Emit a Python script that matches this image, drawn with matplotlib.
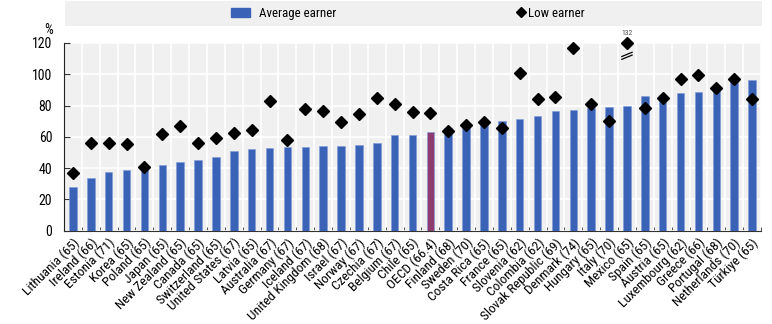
import matplotlib
matplotlib.use("Agg")
import matplotlib.pyplot as plt
import matplotlib.patches as mpatches
from matplotlib.lines import Line2D
from matplotlib import font_manager
import numpy as np

# ---- pick a condensed sans font if one is installed ----
_entries = [(f.name, str(f.stretch)) for f in font_manager.fontManager.ttflist]
_names = {n for n, _ in _entries}
_cond = {n for n, s in _entries if s in ("condensed", "semi-condensed", "extra-condensed", "ultra-condensed", "75", "62.5", "87.5")}
family, stretch, scale = "Liberation Sans", "normal", 0.85
for cand in ["Liberation Sans Narrow", "Arial Narrow", "Roboto Condensed", "Open Sans Condensed",
             "Noto Sans Condensed"]:
    if cand in _names:
        family, stretch, scale = cand, "normal", 1.0
        break
else:
    for cand in ["Roboto", "Noto Sans", "Open Sans", "DejaVu Sans"]:
        if cand in _cond:
            family, stretch, scale = cand, "condensed", 0.95
            break
plt.rcParams['font.family'] = [family, 'DejaVu Sans']
plt.rcParams['font.stretch'] = stretch

countries = ["Lithuania (65)", "Ireland (66)", "Estonia (71)", "Korea (65)", "Poland (65)",
             "Japan (65)", "New Zealand (65)", "Canada (65)", "Switzerland (65)",
             "United States (67)", "Latvia (65)", "Australia (67)", "Germany (67)",
             "Iceland (67)", "United Kingdom (68)", "Israel (67)", "Norway (67)",
             "Czechia (67)", "Belgium (67)", "Chile (65)", "OECD (66.4)", "Finland (68)",
             "Sweden (70)", "Costa Rica (65)", "France (65)", "Slovenia (62)",
             "Colombia (62)", "Slovak Republic (69)", "Denmark (74)", "Hungary (65)",
             "Italy (70)", "Mexico (65)", "Spain (65)", "Austria (65)", "Luxembourg (62)",
             "Greece (66)", "Portugal (68)", "Netherlands (70)", "Türkiye (65)"]
average_earner = [28.1, 33.4, 37.5, 38.8, 40.3, 42.2, 43.7, 45.0, 47.3, 51.2, 52.2, 52.9,
                  53.3, 53.5, 54.0, 54.2, 54.8, 55.9, 61.0, 61.2, 63.1, 65.9, 66.5, 68.7,
                  70.0, 71.5, 73.2, 76.4, 77.0, 78.1, 79.0, 79.6, 86.2, 86.7, 87.7, 88.6,
                  91.1, 97.1, 96.3]
low_earner = [36.7, 56.3, 55.9, 55.2, 40.7, 61.6, 67.0, 55.9, 59.1, 62.3, 64.4, 82.8,
              57.8, 77.7, 76.2, 69.4, 74.5, 84.5, 80.9, 76.0, 75.3, 63.6, 67.4, 69.4,
              65.9, 100.5, 84.1, 85.6, 116.8, 80.9, 70.2, 132.0, 78.3, 84.7, 97.1, 99.5,
              91.1, 97.1, 84.1]
highlight = "OECD (66.4)"
ymax = 120

blue = "#3a62b6"
purple = "#8c3c70"
fs = 10 * scale

W, H = 772, 324
fig = plt.figure(figsize=(W / 100, H / 100), dpi=100)
ax = fig.add_axes([64 / W, 1 - 230.5 / H, (761 - 64) / W, (230.5 - 43) / H])
ax.set_facecolor("#f0f0f0")

n = len(countries)
x = np.arange(n)
colors = [purple if c == highlight else blue for c in countries]
ax.bar(x, average_earner, width=0.42, color=colors, zorder=3,
       edgecolor="#7f9bd6", linewidth=0.4)
low = np.array(low_earner)
ax.plot(x, np.minimum(low, ymax), linestyle="none", marker="D", color="black",
        markersize=6, zorder=4, clip_on=False)

# annotate clipped values
for i, v in enumerate(low):
    if v > ymax:
        ax.annotate(f"{v:.0f}", (i, ymax), xytext=(0, 7), textcoords="offset points",
                    ha="center", va="center", fontsize=5.5, color="#4a4a4a",
                    annotation_clip=False)
        for dy in (0, 1.8):
            ax.plot([i - 0.32, i + 0.32], [109.4 + dy, 112.4 + dy], color="black",
                    lw=0.9, zorder=5, solid_capstyle="butt")

ax.set_xlim(-0.5, n - 0.5)
ax.set_ylim(0, ymax)
ax.set_yticks(np.arange(0, 121, 20))
ax.set_xticks(x)
ax.set_xticklabels(countries, rotation=45, ha="right", rotation_mode="anchor", fontsize=fs * 0.97)
ax.set_xticks(np.arange(-0.5, n, 1), minor=True)
ax.tick_params(axis="x", which="major", length=0, pad=4)
ax.tick_params(axis="x", which="minor", length=3, direction="in", color="#333333")
ax.tick_params(axis="y", length=4, direction="in", labelsize=fs, pad=8.5, color="#333333")

ax.grid(axis="y", color="white", linewidth=1.2, zorder=0)
ax.grid(axis="x", which="minor", color="white", linewidth=1.2, zorder=0)
ax.grid(axis="x", which="major", visible=False)
ax.set_axisbelow(True)

for s in ["top", "right"]:
    ax.spines[s].set_visible(False)
ax.spines["left"].set_color("#222222")
ax.spines["bottom"].set_color("#333333")

fig.text(53 / W, 1 - 30 / H, "%", ha="right", va="center", fontsize=fs)

# legend band
fig.patches.append(mpatches.Rectangle((65 / W, 1 - 26 / H), (762 - 65) / W, 25 / H,
                                      transform=fig.transFigure, facecolor="#f0f0f0",
                                      edgecolor="none", zorder=0))
lfs = fs * 0.93
em = lfs * 100 / 72  # px per em
h_avg = mpatches.Patch(color=blue, label="Average earner")
h_low = Line2D([], [], marker="D", color="black", linestyle="none", markersize=5,
               label="Low earner")
fig.legend(handles=[h_avg], loc="center left", bbox_to_anchor=(231 / W, 1 - 13.5 / H),
           frameon=False, fontsize=lfs, borderpad=0, borderaxespad=0,
           handlelength=19 / em, handleheight=10 / em, handletextpad=9 / em)
fig.legend(handles=[h_low], loc="center left", bbox_to_anchor=(516 / W, 1 - 13.5 / H),
           frameon=False, fontsize=lfs, borderpad=0, borderaxespad=0,
           handlelength=10 / em, handletextpad=2 / em)

fig.savefig("out.png", dpi=100)
